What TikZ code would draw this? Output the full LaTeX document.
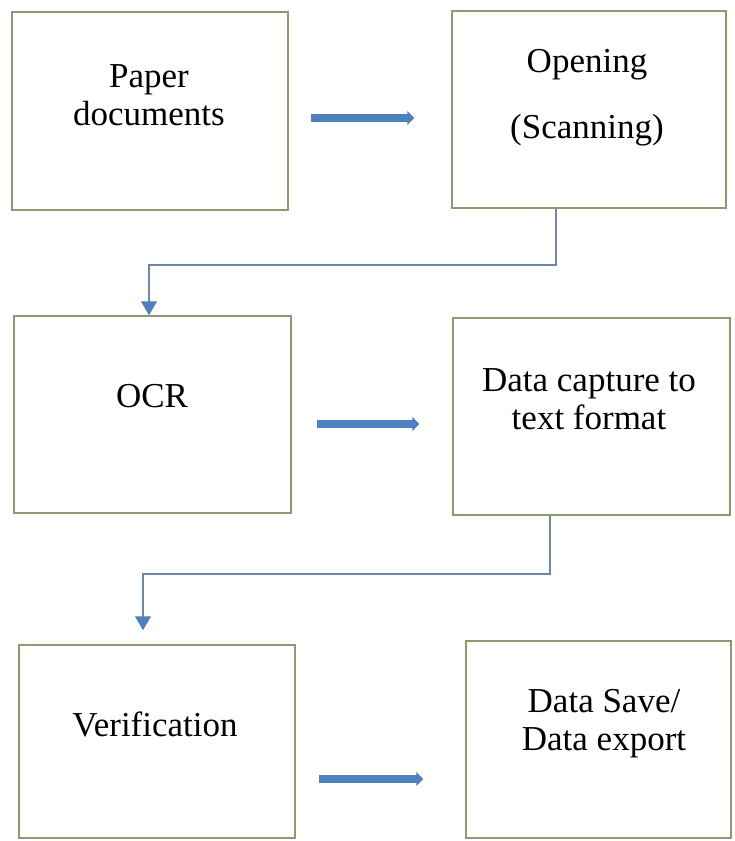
\documentclass[tikz,border=0pt]{standalone}
\usepackage{fontspec}
\setmainfont{Liberation Serif}
\usetikzlibrary{arrows.meta}
\definecolor{boxline}{RGB}{140,155,110}
\definecolor{flowblue}{RGB}{79,129,189}
\definecolor{linkgray}{RGB}{115,135,165}
\tikzset{
  stage/.style={draw=boxline,line width=1.5pt,inner sep=0pt},
  caption/.style={align=center,font=\fontsize{35}{38}\selectfont},
  flow/.style={flowblue,line width=8pt,-{Triangle[length=7pt,width=14pt]}},
  link/.style={linkgray,line width=1.3pt,-{Triangle[length=14pt,width=16pt,color=flowblue]}}
}
\begin{document}
\begin{tikzpicture}[x=1pt,y=-1pt]
	\useasboundingbox (0,0) rectangle (734,841);
	% the six stages
	\node[stage,minimum width=276pt,minimum height=198pt] (paper) at (150,111) {};
	\node[stage,minimum width=274pt,minimum height=197pt] (scan) at (589,109.5) {};
	\node[stage,minimum width=277pt,minimum height=197pt] (ocr) at (152.5,414.5) {};
	\node[stage,minimum width=277pt,minimum height=197pt] (capture) at (591.5,416.5) {};
	\node[stage,minimum width=276pt,minimum height=193pt] (verify) at (157,741.5) {};
	\node[stage,minimum width=265pt,minimum height=197pt] (save) at (598.5,739.5) {};
	\node[caption] (paperT) at (149,95) {Paper\\documents};
	\node[caption] (scanT) at (587,98) {Opening\\[28pt](Scanning)};
	\node[caption] (ocrT) at (152,396) {OCR};
	\node[caption] (captureT) at (589,399) {Data capture to\\text format};
	\node[caption] (verifyT) at (155,724) {Verification};
	\node[caption] (saveT) at (604,724) {Data Save/\\Data export};
	% thick arrows along each row
	\draw[flow,shorten <=22pt,shorten >=37pt] (paper.east |- 0,118) -- (scan.west |- 0,118);
	\draw[flow,shorten <=25pt,shorten >=33pt] (ocr.east |- 0,424) -- (capture.west |- 0,424);
	\draw[flow,shorten <=23pt,shorten >=42pt] (verify.east |- 0,779) -- (save.west |- 0,779);
	% thin elbow links down to the next row
	\coordinate (k1) at (556,265); \coordinate (k2) at (149,265);
	\draw[link] (scan.south -| k1) -- (k1) -- (k2) -- (ocr.north -| k2);
	\coordinate (k3) at (550,574); \coordinate (k4) at (143,574);
	\draw[link,shorten >=14pt] (capture.south -| k3) -- (k3) -- (k4) -- (verify.north -| k4);
\end{tikzpicture}
\end{document}
